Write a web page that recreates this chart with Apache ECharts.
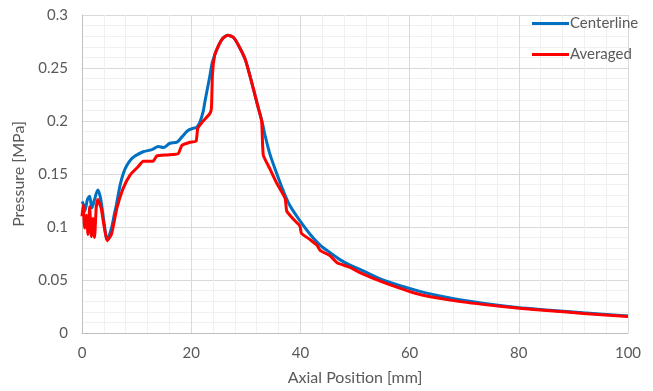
<!DOCTYPE html>
<html lang="en">
<head>
    <meta charset="UTF-8">
    <title>Pressure vs Axial Position</title>
    <script src="https://cdn.jsdelivr.net/npm/echarts@6/dist/echarts.min.js"></script>
    <style>
        html, body { margin: 0; padding: 0; background: #fff; }
        #chart { width: 653px; height: 391px; }
    </style>
</head>
<body>
<div id="chart"></div>
<script type="text/javascript">
    // axial position [mm] / pressure [MPa]
    const center_x = [0, 0.2, 0.5, 1.0, 1.4, 1.8, 2.3, 2.9, 3.4, 4.1, 4.6, 5.4, 6.0, 6.3, 7.0, 7.6, 8.2, 9.0, 9.7,
        11.2, 12.8, 14.0, 14.9, 16.1, 17.4, 18.3, 19.4, 20.3, 21.0, 21.6, 22.2, 22.5, 23.4, 23.9, 24.9, 25.8, 26.7,
        27.7, 28.6, 29.9, 31.1, 32.2, 33.0, 33.5, 34.4, 35.7, 36.8, 38.1, 39.9, 41.8, 43.6, 45.4, 47.3, 49.1, 50.9,
        55.1, 61.4, 67.4, 73.4, 79.7, 85.7, 91.8, 100];
    const center_p = [0.124, 0.122, 0.115, 0.126, 0.129, 0.118, 0.126, 0.135, 0.127, 0.102, 0.088, 0.099, 0.114, 0.121, 0.140, 0.151, 0.158, 0.164, 0.167,
        0.171, 0.173, 0.176, 0.175, 0.179, 0.180, 0.185, 0.191, 0.193, 0.194, 0.199, 0.209, 0.218, 0.242, 0.256, 0.270, 0.278, 0.281,
        0.279, 0.272, 0.258, 0.236, 0.214, 0.199, 0.187, 0.169, 0.150, 0.135, 0.120, 0.106, 0.093, 0.083, 0.076, 0.069, 0.064, 0.060,
        0.050, 0.040, 0.033, 0.028, 0.024, 0.0215, 0.019, 0.016];

    const avg_x = [0, 0.2, 0.5, 0.8, 1.1, 1.4, 1.7, 2.0, 2.3, 2.6, 2.9, 3.5, 4.1, 4.6, 5.4, 6.4, 7.5, 8.8, 10.3, 11.2,
        13.0, 13.7, 15.6, 17.6, 18.3, 19.8, 20.9, 21.2, 22.2, 23.4, 23.7, 23.9, 24.3, 24.9, 25.8, 26.7, 27.7, 28.6,
        29.9, 31.1, 32.2, 32.9, 33.2, 34.4, 35.7, 37.2, 37.5, 38.6, 39.9, 40.2, 41.8, 43.0, 43.6, 45.4, 46.8, 49.1,
        50.9, 55.1, 61.4, 67.4, 73.4, 79.7, 85.7, 91.8, 100];
    const avg_p = [0.110, 0.121, 0.099, 0.111, 0.093, 0.119, 0.091, 0.108, 0.090, 0.118, 0.126, 0.118, 0.099, 0.087, 0.093, 0.118, 0.136, 0.149, 0.157, 0.162,
        0.162, 0.167, 0.168, 0.169, 0.177, 0.180, 0.181, 0.193, 0.200, 0.207, 0.212, 0.245, 0.262, 0.270, 0.278, 0.281, 0.279, 0.272,
        0.258, 0.236, 0.214, 0.200, 0.168, 0.155, 0.141, 0.127, 0.115, 0.108, 0.101, 0.094, 0.088, 0.083, 0.078, 0.073, 0.066, 0.062,
        0.057, 0.048, 0.037, 0.031, 0.027, 0.0235, 0.021, 0.0185, 0.0155];

    const series_names = ["Centerline", "Averaged"];
    const series_colors = ["#0070c0", "#ff0000"];

    const text_color = "#595959";
    const font = "Lato, 'Open Sans', sans-serif";

    function to_pairs(xs, ys) {
        return xs.map((x, i) => [x, ys[i]]);
    }

    const chart = echarts.init(document.getElementById("chart"));
    const option = {
        animation: false,
        textStyle: { fontFamily: font, color: text_color },
        grid: { left: 82, right: 25, top: 15, bottom: 55, containLabel: false },
        legend: {
            orient: "vertical",
            left: 527,
            top: 11,
            icon: "rect",
            itemWidth: 37,
            itemHeight: 3,
            itemGap: 16,
            textStyle: { fontFamily: font, fontSize: 15, color: text_color, padding: [0, 0, 0, -4] },
            data: series_names
        },
        xAxis: {
            type: "value",
            min: 0,
            max: 100,
            interval: 20,
            name: "Axial Position [mm]",
            nameLocation: "middle",
            nameGap: 37,
            nameTextStyle: { fontFamily: font, fontSize: 16, color: text_color },
            axisLine: { show: true, lineStyle: { color: "#bfbfbf", width: 1 } },
            axisTick: { show: false },
            axisLabel: { fontFamily: font, fontSize: 15, color: text_color, margin: 13 },
            splitLine: { show: true, lineStyle: { color: "#d9d9d9", width: 1 } },
            minorTick: { show: false, splitNumber: 5 },
            minorSplitLine: { show: true, lineStyle: { color: "#f0f0f0", width: 1 } }
        },
        yAxis: {
            type: "value",
            min: 0,
            max: 0.3,
            interval: 0.05,
            name: "Pressure [MPa]",
            nameLocation: "middle",
            nameGap: 55,
            nameTextStyle: { fontFamily: font, fontSize: 16, color: text_color },
            axisLine: { show: true, lineStyle: { color: "#bfbfbf", width: 1 } },
            axisTick: { show: false },
            axisLabel: { fontFamily: font, fontSize: 15, color: text_color, margin: 14 },
            splitLine: { show: true, lineStyle: { color: "#d9d9d9", width: 1 } },
            minorTick: { show: false, splitNumber: 5 },
            minorSplitLine: { show: true, lineStyle: { color: "#f0f0f0", width: 1 } }
        },
        series: [
            {
                name: series_names[0],
                type: "line",
                showSymbol: false,
                smooth: 0.3,
                color: series_colors[0],
                lineStyle: { width: 3, color: series_colors[0] },
                data: to_pairs(center_x, center_p)
            },
            {
                name: series_names[1],
                type: "line",
                showSymbol: false,
                smooth: 0.15,
                color: series_colors[1],
                lineStyle: { width: 3, color: series_colors[1] },
                data: to_pairs(avg_x, avg_p)
            }
        ]
    };
    chart.setOption(option);
</script>
</body>
</html>
